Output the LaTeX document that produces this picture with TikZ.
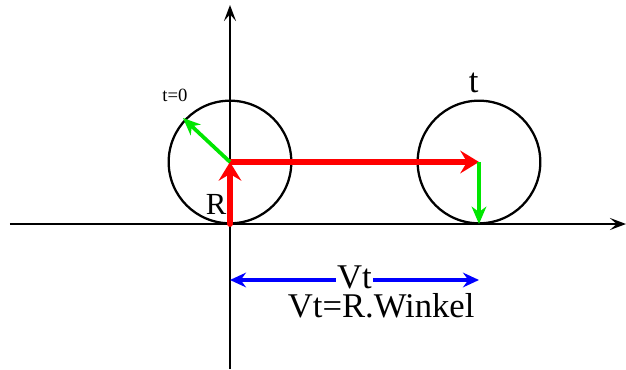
\documentclass[tikz,border=0pt]{standalone}
\usepackage{fontspec}
\setmainfont{Liberation Serif}
\usetikzlibrary{arrows.meta,positioning}
\definecolor{rollred}{HTML}{FF0000}
\definecolor{rollgreen}{HTML}{00E600}
\definecolor{rollblue}{HTML}{0000FF}
\tikzset{
  axisline/.style={
    -{Stealth[length=12pt,width=9pt,inset=5pt]},
    line width=1.9pt,
    draw=black
  },
  wheel/.style={
    circle,
    draw=black,
    line width=1.7pt,
    minimum size=92pt,
    inner sep=0pt
  },
  redarrow/.style={
    -{Stealth[length=14pt,width=17pt,inset=5pt]},
    line width=4.4pt,
    draw=rollred
  },
  greenarrow/.style={
    -{Stealth[length=13pt,width=11pt,inset=4pt]},
    line width=2.8pt,
    draw=rollgreen
  },
  bluearrow/.style={
    {Stealth[length=12pt,width=11pt,inset=4pt]}-{Stealth[length=12pt,width=11pt,inset=4pt]},
    line width=2.8pt,
    draw=rollblue
  },
  bigtext/.style={font=\fontsize{26}{28}\selectfont, inner sep=0pt}
}
\begin{document}
\begin{tikzpicture}[x=0.75pt, y=0.75pt]
    \useasboundingbox (-230,-145) rectangle (396,224);

    \coordinate (origin) at (0,0);
    \coordinate (xstart) at (-220,0);
    \coordinate (xend) at (396,0);
    \coordinate (ystart) at (0,-145);
    \coordinate (yend) at (0,219);

    \node[wheel] (wheelA) at (0,62) {};
    \node[wheel] (wheelB) at (249,62) {};
    \coordinate (groundB) at (249,0);
    \coordinate (startpoint) at (-47,106);

    \coordinate (vtleft) at (0,-56);
    \coordinate (vtright) at (249,-56);

    \draw[axisline] (xstart) -- (xend);
    \draw[axisline] (ystart) -- (yend);

    \draw[redarrow, line cap=round] (origin) -- (wheelA.center);
    \draw[redarrow] (wheelA.center) -- (wheelB.center);
    \draw[greenarrow] (wheelA.center) -- (startpoint);
    \draw[greenarrow] (wheelB.center) -- (groundB);

    \node[font=\fontsize{14}{15}\selectfont, inner sep=0pt] (tzero) at (-55,129) {t=0};
    \node[font=\fontsize{23}{25}\selectfont, inner sep=0pt] (radius) at (-14,20) {R};
    \node[bigtext, above=5pt of wheelB, xshift=-4pt] (tlabel) {t};

    \draw[bluearrow] (vtleft) -- node[bigtext, fill=white, inner xsep=1pt, yshift=2pt] (vt) {Vt} (vtright);
    \node[bigtext, below=2pt of vt, xshift=20pt] (formula) {Vt=R.Winkel};
\end{tikzpicture}
\end{document}
